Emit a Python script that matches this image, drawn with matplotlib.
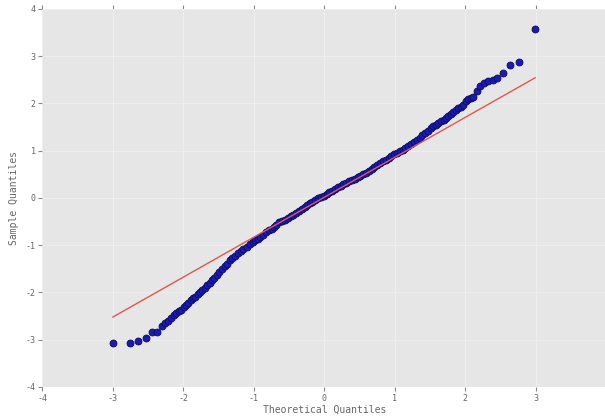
import matplotlib
matplotlib.use("Agg")
import matplotlib.pyplot as plt

# theoretical vs sample quantiles, ordered
theoretical = [
    -3.00, -2.76, -2.64, -2.53, -2.45, -2.38, -2.31, -2.26, -2.22, -2.17,
    -2.13, -2.10, -2.06, -2.03, -1.99, -1.96, -1.93, -1.89, -1.86, -1.84,
    -1.80, -1.77, -1.74, -1.70, -1.66, -1.62, -1.59, -1.56, -1.53, -1.49,
    -1.45, -1.41, -1.38, -1.34, -1.31, -1.27, -1.23, -1.19, -1.15, -1.10,
    -1.06, -1.02, -0.98, -0.94, -0.91, -0.87, -0.83, -0.79, -0.75, -0.72,
    -0.68, -0.64, -0.60, -0.56, -0.52, -0.48, -0.44, -0.40, -0.36, -0.32,
    -0.28, -0.24, -0.21, -0.17, -0.13, -0.09, -0.05, -0.01, 0.03, 0.07,
    0.11, 0.15, 0.19, 0.23, 0.27, 0.31, 0.35, 0.39, 0.43, 0.47,
    0.51, 0.55, 0.59, 0.63, 0.67, 0.71, 0.75, 0.79, 0.83, 0.87,
    0.91, 0.95, 0.99, 1.03, 1.07, 1.11, 1.15, 1.19, 1.23, 1.27,
    1.31, 1.35, 1.39, 1.43, 1.47, 1.51, 1.54, 1.58, 1.61, 1.65,
    1.69, 1.73, 1.76, 1.80, 1.83, 1.87, 1.90, 1.94, 1.97, 2.01,
    2.04, 2.08, 2.11, 2.16, 2.21, 2.26, 2.32, 2.39, 2.45, 2.54,
    2.64, 2.76, 2.99,
]
sample = [
    -3.07, -3.06, -3.02, -2.97, -2.83, -2.83, -2.71, -2.65, -2.60, -2.54,
    -2.48, -2.44, -2.40, -2.37, -2.31, -2.27, -2.23, -2.16, -2.12, -2.09,
    -2.03, -1.99, -1.95, -1.90, -1.85, -1.80, -1.74, -1.69, -1.63, -1.57,
    -1.51, -1.45, -1.39, -1.32, -1.27, -1.22, -1.17, -1.13, -1.08, -1.03,
    -0.98, -0.94, -0.90, -0.86, -0.82, -0.78, -0.73, -0.69, -0.65, -0.61,
    -0.57, -0.52, -0.49, -0.46, -0.43, -0.39, -0.36, -0.32, -0.27, -0.23,
    -0.19, -0.15, -0.11, -0.08, -0.05, -0.01, 0.02, 0.05, 0.09, 0.12,
    0.15, 0.18, 0.22, 0.25, 0.29, 0.32, 0.35, 0.37, 0.40, 0.44,
    0.47, 0.50, 0.53, 0.57, 0.61, 0.65, 0.69, 0.73, 0.77, 0.81,
    0.85, 0.88, 0.92, 0.95, 0.99, 1.02, 1.06, 1.10, 1.14, 1.18,
    1.22, 1.27, 1.32, 1.38, 1.42, 1.47, 1.51, 1.55, 1.58, 1.62,
    1.65, 1.69, 1.73, 1.78, 1.82, 1.86, 1.90, 1.93, 1.97, 2.04,
    2.09, 2.11, 2.14, 2.26, 2.37, 2.44, 2.47, 2.49, 2.54, 2.65,
    2.81, 2.88, 3.57,
]

# reference line endpoints
line_x = [-3.00, 2.99]
line_y = [-2.52, 2.54]

ticks = [-4, -3, -2, -1, 0, 1, 2, 3, 4]
xtick_labels = ['-4', '-3', '-2', '-1', '0', '1', '2', '3', '']
ytick_labels = ['-4', '-3', '-2', '-1', '0', '1', '2', '3', '4']

plt.rcParams['axes.unicode_minus'] = False
plt.rcParams['font.family'] = ['DejaVu Sans Mono']

fig = plt.figure(figsize=(6.05, 4.17), dpi=100)
ax = fig.add_axes([0.0702, 0.072, 0.932, 0.907])
ax.set_facecolor('#e6e6e6')

ax.plot(theoretical, sample, 'o', color='#1a1ab4', markeredgecolor='#0a0a60',
        markeredgewidth=0.6, markersize=5, zorder=3)
ax.plot(line_x, line_y, '-', color='#e0574f', linewidth=1.0, zorder=4)

ax.set_xlim(-4, 4)
ax.set_ylim(-4, 4)
ax.set_xticks(ticks)
ax.set_xticklabels(xtick_labels)
ax.set_yticks(ticks)
ax.set_yticklabels(ytick_labels)
ax.grid(True, color='#eeeeee', linewidth=0.8, zorder=0)
ax.set_axisbelow(True)
for side in ax.spines.values():
    side.set_visible(False)
ax.tick_params(axis='both', labelsize=6, colors='#888888', length=3,
               direction='out', top=True)
ax.tick_params(axis='both', labelcolor='#666666', pad=2)

ax.set_xlabel('Theoretical Quantiles', fontsize=7, color='#666666', labelpad=1)
ax.set_ylabel('Sample Quantiles', fontsize=7, color='#666666', labelpad=5)

fig.savefig('out.png', dpi=100)
